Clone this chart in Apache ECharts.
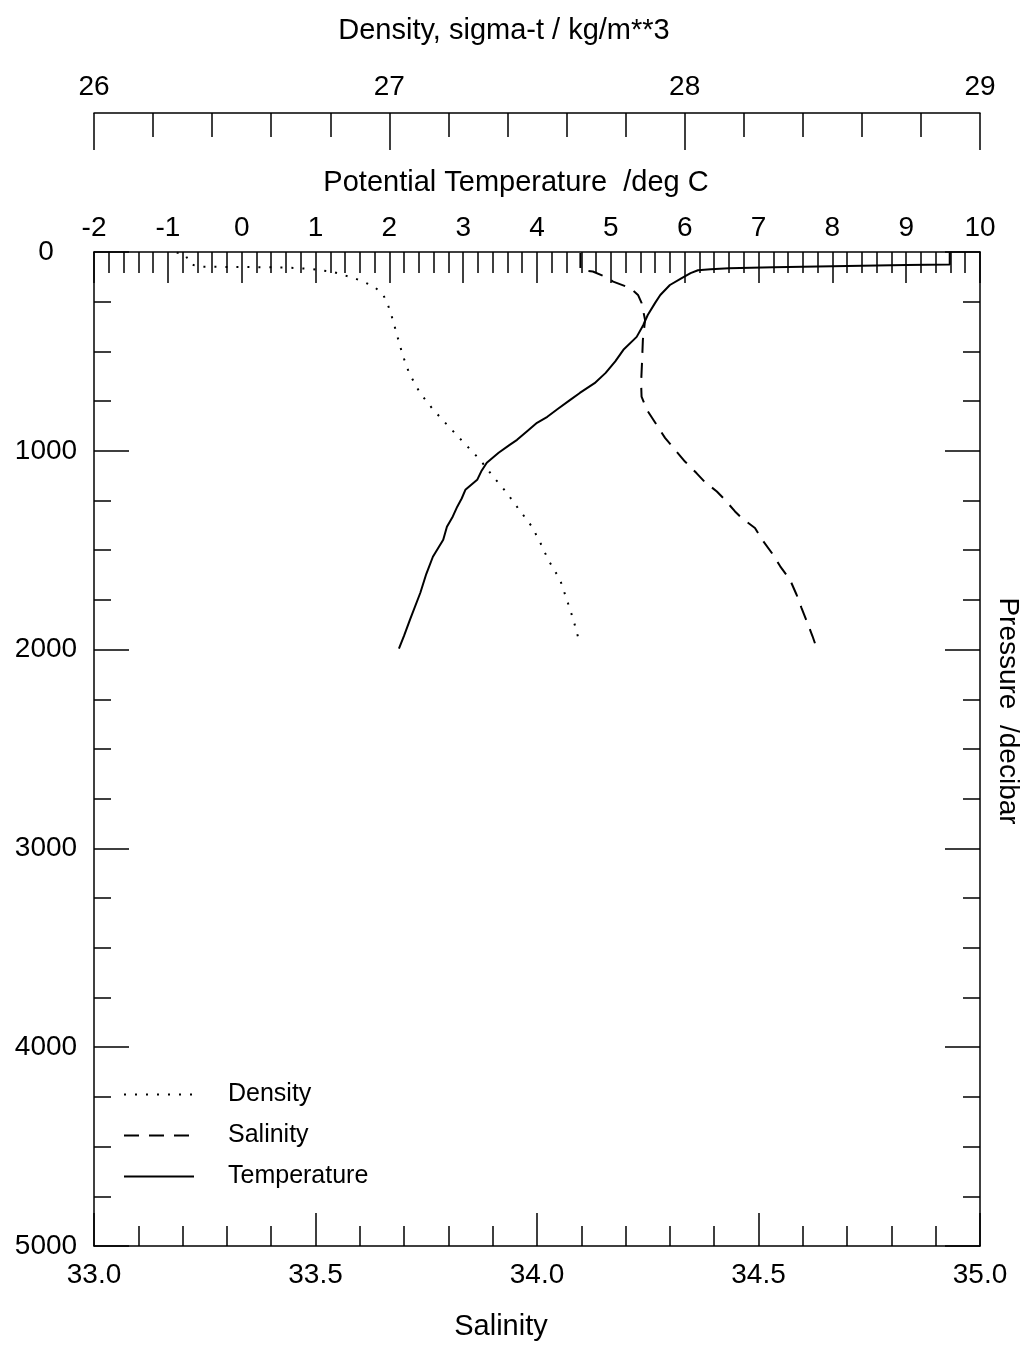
<!DOCTYPE html>
<html>
<head>
<meta charset="utf-8">
<script src="https://cdn.jsdelivr.net/npm/echarts@6/dist/echarts.min.js"></script>
<style>
  html, body { margin: 0; padding: 0; background: #fff; }
  #chart { width: 1030px; height: 1346px; }
</style>
</head>
<body>
<div id="chart"></div>
<script>
// ---- Data (pressure in decibar) ----
const pressureT = [0, 63, 66, 72, 77, 82, 87, 92, 106, 131, 166, 216, 256, 317, 367, 427, 492, 550, 608, 660, 709, 744, 790, 829, 859, 900, 945, 970, 1010, 1060, 1100, 1146, 1196, 1240, 1281, 1330, 1382, 1447, 1533, 1620, 1714, 1849, 1930, 1995];
const temperature = [9.59, 9.59, 9.0, 8.0, 7.2, 6.6, 6.35, 6.18, 6.08, 5.96, 5.80, 5.67, 5.60, 5.50, 5.44, 5.35, 5.17, 5.06, 4.93, 4.78, 4.58, 4.45, 4.28, 4.14, 4.00, 3.87, 3.73, 3.63, 3.48, 3.32, 3.25, 3.19, 3.03, 2.98, 2.92, 2.86, 2.78, 2.73, 2.59, 2.50, 2.42, 2.28, 2.20, 2.13];

const pressureS = [5, 90, 98, 124, 149, 181, 216, 256, 342, 442, 558, 658, 727, 794, 859, 935, 1004, 1054, 1112, 1155, 1205, 1246, 1305, 1338, 1388, 1456, 1523, 1581, 1648, 1724, 1790, 1858, 1933, 1991];
const salinity = [34.098, 34.098, 34.126, 34.154, 34.172, 34.210, 34.228, 34.236, 34.244, 34.239, 34.237, 34.235, 34.236, 34.248, 34.267, 34.289, 34.315, 34.334, 34.360, 34.378, 34.406, 34.424, 34.447, 34.462, 34.492, 34.511, 34.533, 34.549, 34.571, 34.586, 34.597, 34.609, 34.622, 34.631];

const pressureD = [3, 15, 60, 74, 75, 76, 78, 85, 100, 131, 151, 176, 211, 261, 312, 412, 518, 613, 709, 794, 889, 970, 1045, 1131, 1206, 1291, 1380, 1452, 1548, 1648, 1749, 1849, 1958];
const density = [26.28, 26.31, 26.325, 26.356, 26.45, 26.55, 26.65, 26.737, 26.809, 26.88, 26.915, 26.949, 26.978, 26.994, 27.006, 27.025, 27.045, 27.068, 27.104, 27.149, 27.208, 27.259, 27.307, 27.352, 27.395, 27.437, 27.482, 27.508, 27.538, 27.578, 27.601, 27.623, 27.643];

const seriesNames = ['Density', 'Salinity', 'Temperature'];
const salinityTicks = [33.0, 35.0, 0.5];
const temperatureTicks = [-2, 10, 1];
const densityTicks = [26, 29, 1];
const pressureTicks = [0, 5000, 1000];

const FONT = '"Liberation Sans", Arial, Helvetica, sans-serif';
const BLACK = '#000';

function pairs(xs, ps) { return xs.map((v, i) => [v, ps[i]]); }

const lineAxis = { show: true, onZero: false, lineStyle: { color: BLACK, width: 1.5 } };
const lbl = { color: BLACK, fontFamily: FONT, fontSize: 28 };
const ttl = { color: BLACK, fontFamily: FONT, fontSize: 29 };

const chart = echarts.init(document.getElementById('chart'), null, { renderer: 'canvas' });
chart.setOption({
  animation: false,
  backgroundColor: '#fff',
  grid: { left: 94, right: 50, top: 252, bottom: 99, containLabel: false },
  legend: {
    orient: 'vertical', left: 118, top: 1077,
    itemWidth: 70, itemHeight: 14, itemGap: 16,
    data: seriesNames,
    itemStyle: { opacity: 0, color: 'transparent', borderWidth: 0 },
    textStyle: { color: BLACK, fontFamily: FONT, fontSize: 25, padding: [0, 0, 0, 29] }
  },
  xAxis: [
    {
      type: 'value', position: 'bottom',
      min: salinityTicks[0], max: salinityTicks[1], interval: salinityTicks[2],
      name: 'Salinity', nameLocation: 'middle', nameGap: 66,
      nameTextStyle: Object.assign({}, ttl, { padding: [0, 72, 0, 0] }),
      axisLine: lineAxis,
      axisTick: { show: true, inside: true, length: 33, lineStyle: { color: BLACK, width: 1.5 } },
      minorTick: { show: true, splitNumber: 5, length: 20, lineStyle: { color: BLACK, width: 1.5 } },
      axisLabel: Object.assign({}, lbl, { margin: 15, formatter: v => v.toFixed(1) }),
      splitLine: { show: false }
    },
    {
      type: 'value', position: 'top',
      min: temperatureTicks[0], max: temperatureTicks[1], interval: temperatureTicks[2],
      name: 'Potential Temperature  /deg C', nameLocation: 'middle', nameGap: 55,
      nameTextStyle: Object.assign({}, ttl, { padding: [0, 42, 0, 0] }),
      axisLine: lineAxis,
      axisTick: { show: true, inside: true, length: 31, lineStyle: { color: BLACK, width: 1.5 } },
      minorTick: { show: true, splitNumber: 5, length: 21, lineStyle: { color: BLACK, width: 1.5 } },
      axisLabel: Object.assign({}, lbl, { margin: 10, formatter: v => String(v) }),
      splitLine: { show: false }
    },
    {
      type: 'value', position: 'top', offset: 139,
      min: densityTicks[0], max: densityTicks[1], interval: densityTicks[2],
      name: 'Density, sigma-t / kg/m**3', nameLocation: 'middle', nameGap: 68,
      nameTextStyle: Object.assign({}, ttl, { padding: [0, 66, 0, 0] }),
      axisLine: lineAxis,
      axisTick: { show: true, inside: true, length: 37, lineStyle: { color: BLACK, width: 1.5 } },
      minorTick: { show: true, splitNumber: 5, length: 24, lineStyle: { color: BLACK, width: 1.5 } },
      axisLabel: Object.assign({}, lbl, { margin: 12, formatter: v => String(v) }),
      splitLine: { show: false }
    }
  ],
  yAxis: [
    {
      type: 'value', position: 'left', inverse: true,
      min: pressureTicks[0], max: pressureTicks[1], interval: pressureTicks[2],
      axisLine: lineAxis,
      axisTick: { show: true, inside: true, length: 35, lineStyle: { color: BLACK, width: 1.5 } },
      minorTick: { show: true, splitNumber: 4, length: 17, lineStyle: { color: BLACK, width: 1.5 } },
      axisLabel: Object.assign({}, lbl, { margin: 48, align: 'center', formatter: v => String(v) }),
      splitLine: { show: false }
    },
    {
      type: 'value', position: 'right', inverse: true,
      min: pressureTicks[0], max: pressureTicks[1], interval: pressureTicks[2],
      name: 'Pressure  /decibar', nameLocation: 'middle', nameGap: 14, nameRotate: -90,
      nameTextStyle: Object.assign({}, lbl, { padding: [0, 76, 0, 0] }),
      axisLine: lineAxis,
      axisTick: { show: true, inside: true, length: 35, lineStyle: { color: BLACK, width: 1.5 } },
      minorTick: { show: true, splitNumber: 4, length: 17, lineStyle: { color: BLACK, width: 1.5 } },
      axisLabel: { show: false },
      splitLine: { show: false }
    }
  ],
  series: [
    {
      name: 'Density', type: 'line', xAxisIndex: 2, yAxisIndex: 0,
      data: pairs(density, pressureD), symbol: 'none', smooth: false,
      lineStyle: { color: BLACK, width: 2, type: [2, 9] }, itemStyle: { color: BLACK }
    },
    {
      name: 'Salinity', type: 'line', xAxisIndex: 0, yAxisIndex: 0,
      data: pairs(salinity, pressureS), symbol: 'none', smooth: false,
      lineStyle: { color: BLACK, width: 2, type: [15, 10] }, itemStyle: { color: BLACK }
    },
    {
      name: 'Temperature', type: 'line', xAxisIndex: 1, yAxisIndex: 0,
      data: pairs(temperature, pressureT), symbol: 'none', smooth: false,
      lineStyle: { color: BLACK, width: 2 }, itemStyle: { color: BLACK }
    }
  ]
});
</script>
</body>
</html>
